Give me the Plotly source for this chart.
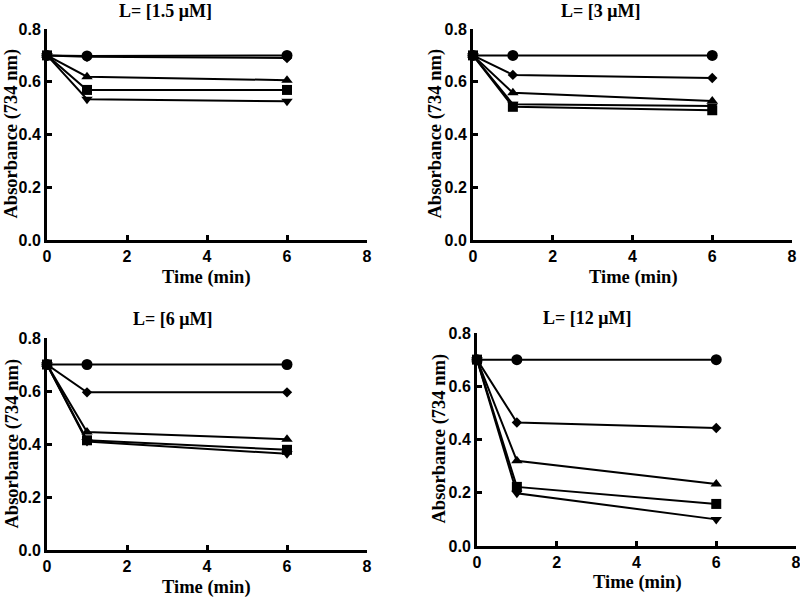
import plotly.graph_objects as go

time = [0, 1, 6]
panel_titles = ["L= [1.5 \u03bcM]", "L= [3 \u03bcM]", "L= [6 \u03bcM]", "L= [12 \u03bcM]"]
series_symbols = ["circle", "diamond", "triangle-up", "triangle-down", "square"]
series_sizes = [11, 8, 10, 10, 10]

# values per panel, series order: circle, diamond, triangle-up, triangle-down, square
p1 = [[0.70, 0.698, 0.700], [0.70, 0.695, 0.690], [0.70, 0.619, 0.606], [0.70, 0.534, 0.526], [0.70, 0.569, 0.569]]
p2 = [[0.70, 0.700, 0.700], [0.70, 0.626, 0.614], [0.70, 0.558, 0.527], [0.70, 0.515, 0.508], [0.70, 0.505, 0.492]]
p3 = [[0.70, 0.700, 0.700], [0.70, 0.595, 0.595], [0.70, 0.445, 0.418], [0.70, 0.409, 0.363], [0.70, 0.414, 0.378]]
p4 = [[0.70, 0.700, 0.700], [0.70, 0.464, 0.443], [0.70, 0.320, 0.233], [0.70, 0.198, 0.100], [0.70, 0.222, 0.158]]
panels = [p1, p2, p3, p4]

W, H = 800, 597
# plot-area pixel boxes: (x0, x1, ytop, ybottom)
boxes = [(47, 367, 29, 240), (473, 792, 29, 240), (47, 367, 338, 550), (477, 796, 333, 546)]
title_pos = [(165, 0), (600, 0), (172, 308), (587, 307)]
xtitle_pos = [(207, 277), (633, 277), (207, 587), (637, 582)]
ytitle_pos = [(0, 134), (424, 134), (0, 444), (427, 438)]

fig = go.Figure()
serif = "Liberation Serif, Times New Roman, serif"
sans = "Liberation Sans, Arial, sans-serif"

for i, data in enumerate(panels):
    xa = "x" if i == 0 else f"x{i+1}"
    ya = "y" if i == 0 else f"y{i+1}"
    for s, vals in enumerate(data):
        fig.add_trace(go.Scatter(
            x=time, y=vals, mode="lines+markers", xaxis=xa, yaxis=ya,
            line=dict(color="black", width=2),
            marker=dict(symbol=series_symbols[s], size=series_sizes[s], color="black"),
            cliponaxis=False, showlegend=False, hoverinfo="skip"))
    x0, x1, yt, yb = boxes[i]
    axkw = dict(showline=True, linecolor="black", linewidth=3, ticks="inside",
                ticklen=5, tickwidth=2.5, tickcolor="black", showgrid=False, zeroline=False,
                tickfont=dict(family=sans, size=16, color="black", weight="bold"),
                ticklabeloverflow="allow", automargin=False, mirror=False)
    fig.layout[("xaxis" if i == 0 else f"xaxis{i+1}")] = dict(
        domain=[x0 / W, x1 / W], range=[0, 8], tickvals=[0, 2, 4, 6, 8],
        anchor=ya, **axkw)
    fig.layout[("yaxis" if i == 0 else f"yaxis{i+1}")] = dict(
        domain=[1 - yb / H, 1 - yt / H], range=[0, 0.8], tickvals=[0, 0.2, 0.4, 0.6, 0.8],
        tickformat=".1f", anchor=xa, **axkw)
    tx, ty = title_pos[i]
    fig.add_annotation(text="<b>" + panel_titles[i] + "</b>", x=tx / W, y=1 - ty / H,
                       xref="paper", yref="paper", showarrow=False, xanchor="center", yanchor="top",
                       borderpad=0, font=dict(family=serif, size=18, color="black"))
    tx, ty = xtitle_pos[i]
    fig.add_annotation(text="<b>Time (min)</b>", x=tx / W, y=1 - ty / H,
                       xref="paper", yref="paper", showarrow=False, xanchor="center", yanchor="middle",
                       font=dict(family=serif, size=18.5, color="black"))
    tx, ty = ytitle_pos[i]
    fig.add_annotation(text="<b>Absorbance (734 nm)</b>", x=tx / W, y=1 - ty / H, textangle=-90,
                       xref="paper", yref="paper", showarrow=False, xanchor="left", yanchor="middle",
                       borderpad=0, font=dict(family=serif, size=18.5, color="black"))

fig.update_layout(width=W, height=H, margin=dict(l=0, r=0, t=0, b=0, pad=0, autoexpand=False),
                  paper_bgcolor="white", plot_bgcolor="white")
fig.write_html("out.html", config={"displayModeBar": False},
               post_script="document.body.style.margin='0';document.body.style.padding='0';")
